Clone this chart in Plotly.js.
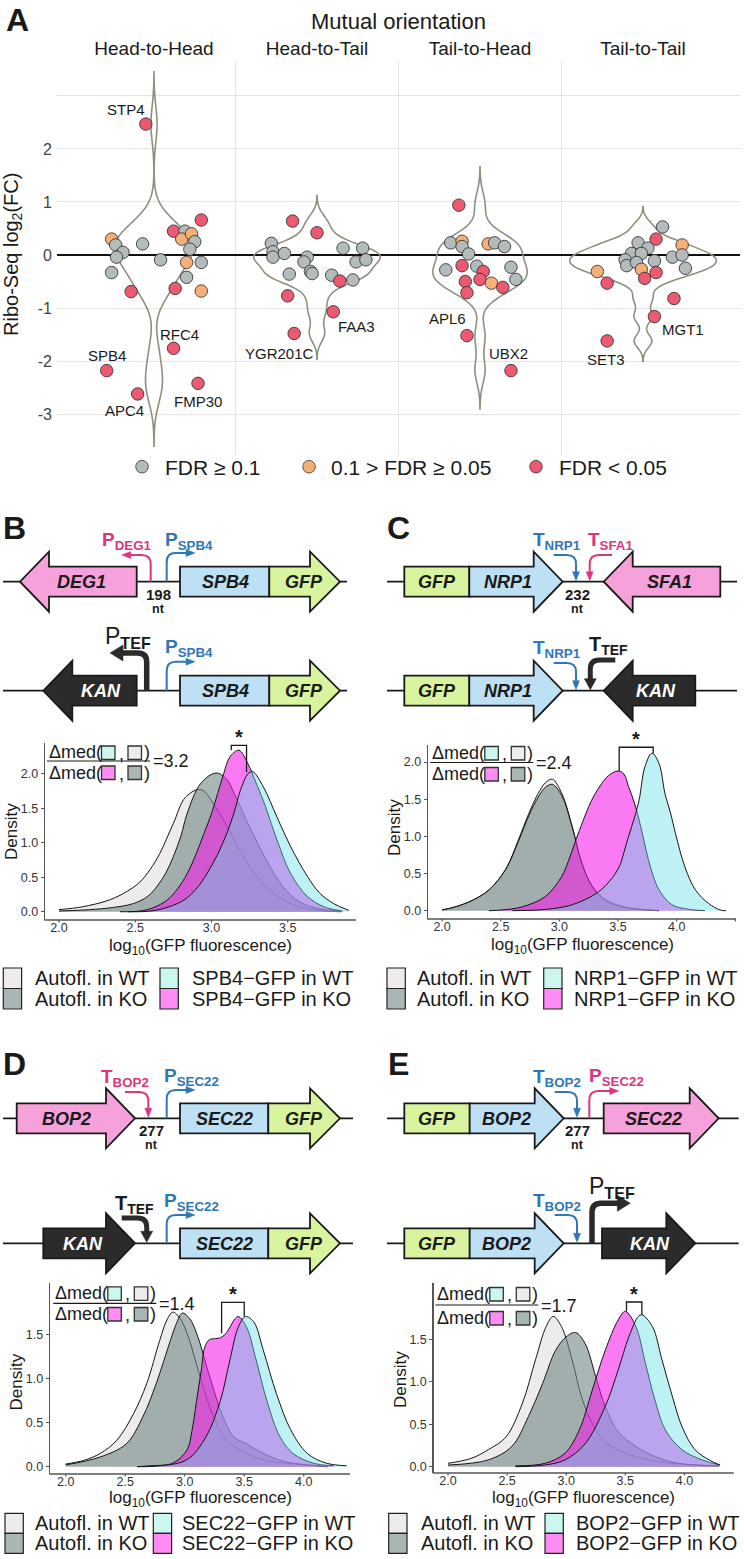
<!DOCTYPE html>
<html><head><meta charset="utf-8">
<script src="https://cdn.plot.ly/plotly-3.0.1.min.js"></script>
<style>html,body{margin:0;padding:0;background:#fff}#chart{width:744px;height:1559px}</style>
</head><body><div id="chart"></div>
<script>
// ---------------- DATA: panel A ----------------
const orientations = ['Head-to-Head','Head-to-Tail','Tail-to-Head','Tail-to-Tail'];
const fdrLabels = ['FDR ≥ 0.1','0.1 > FDR ≥ 0.05','FDR < 0.05'];
// fdr class: 0 = FDR>=0.1, 1 = 0.1>FDR>=0.05, 2 = FDR<0.05 ; labelled genes are the first entries
const hhGenes = ['STP4','RFC4','SPB4','APC4','FMP30'];
const hhFC  = [2.47,-1.76,-2.18,-2.62,-2.42,0.66,0.45,0.45,0.30,0.40,0.25,0.11,-0.14,-0.14,-0.42,-0.63,-0.68,0.30,0.19,0.05,-0.04,-0.33,0.21,-0.69,-0.09];
const hhJit = [-0.05,0.12,-0.29,-0.10,0.27,0.29,0.12,0.19,0.17,0.23,0.25,0.22,0.20,0.29,0.20,0.13,0.29,-0.26,-0.235,-0.19,-0.23,-0.26,-0.07,-0.14,0.04];
const hhFdr = [2,2,2,2,2,2,2,0,1,1,0,0,1,0,0,2,1,1,0,0,0,0,0,2,0];
const htGenes = ['YGR201C','FAA3'];
const htFC  = [-1.48,-1.07,0.64,0.42,0.22,0.06,-0.04,0.03,-0.36,-0.04,-0.13,-0.31,-0.35,-0.38,-0.49,0.13,-0.47,-0.13,0.13,-0.09,-0.77];
const htJit = [-0.14,0.10,-0.15,0.0,-0.28,-0.27,-0.27,-0.2,-0.17,-0.06,-0.08,-0.04,-0.03,0.09,0.14,0.16,0.22,0.24,0.28,0.30,-0.18];
const htFdr = [2,2,2,2,0,0,0,0,0,0,0,0,0,0,2,0,0,0,0,0,2];
const thGenes = ['APL6','UBX2'];
const thFC  = [-1.52,-2.18,0.94,0.23,0.26,0.16,0.02,0.21,0.23,0.16,-0.28,-0.20,-0.21,-0.31,-0.46,-0.50,-0.71,-0.53,-0.61,-0.23,-0.46];
const thJit = [-0.08,0.19,-0.13,-0.18,-0.11,-0.11,-0.07,0.05,0.09,0.15,-0.21,-0.11,-0.02,0.02,0.0,-0.09,-0.08,0.07,0.14,0.19,0.22];
const thFdr = [2,2,2,0,1,0,0,1,0,0,0,2,0,2,2,2,2,1,2,0,0];
const ttGenes = ['MGT1','SET3'];
const ttFC  = [-1.16,-1.62,0.53,0.30,0.23,0.13,0.19,0.03,0.03,-0.09,-0.20,-0.14,-0.11,-0.04,0.0,-0.25,-0.27,-0.44,-0.33,-0.31,-0.53,-0.82];
const ttJit = [0.07,-0.22,0.12,0.08,-0.03,0.03,0.24,-0.07,-0.01,-0.11,-0.10,-0.04,0.07,0.18,0.24,0.26,-0.01,0.01,0.08,-0.28,-0.22,0.19];
const ttFdr = [2,2,0,2,0,0,1,0,0,0,0,0,0,0,0,0,1,2,2,1,2,2];
const yTicksA = [-3,-2,-1,0,1,2,3];
const yTickTextA = ['-3','-2','-1','0','1','2',''];

// ---------------- DATA: density panels (log10 GFP fluorescence vs density) ----------------
const bAutoWT_x=[2.0,2.15,2.33,2.45,2.53,2.6,2.66,2.75,2.83,2.93,3.04,3.15,3.25,3.36,3.47,3.58,3.69,3.85];
const bAutoWT_d=[0.03,0.07,0.17,0.3,0.43,0.62,0.84,1.28,1.66,1.77,1.47,1.04,0.65,0.36,0.17,0.07,0.02,0.0];
const bAutoKO_x=[2.0,2.2,2.35,2.49,2.58,2.64,2.7,2.75,2.8,2.84,2.93,3.03,3.1,3.15,3.25,3.36,3.47,3.58,3.69,3.85];
const bAutoKO_d=[0.01,0.03,0.06,0.12,0.22,0.36,0.56,0.8,1.1,1.42,1.86,2.01,1.92,1.71,1.23,0.75,0.36,0.14,0.05,0.01];
const bGfpKO_x=[2.4,2.53,2.62,2.71,2.78,2.84,2.9,2.95,3.0,3.04,3.08,3.12,3.18,3.24,3.29,3.34,3.43,3.52,3.63,3.74,3.86];
const bGfpKO_d=[0.0,0.01,0.06,0.17,0.34,0.55,0.84,1.13,1.42,1.71,2.0,2.24,2.34,2.14,1.88,1.61,1.04,0.55,0.22,0.07,0.01];
const bGfpWT_x=[2.45,2.6,2.72,2.82,2.9,2.97,3.04,3.1,3.15,3.19,3.24,3.27,3.34,3.43,3.52,3.63,3.71,3.8,3.9];
const bGfpWT_d=[0.0,0.01,0.07,0.17,0.33,0.55,0.83,1.13,1.45,1.76,2.0,2.03,1.81,1.37,0.94,0.51,0.27,0.12,0.02];

const cAutoWT_x=[2.0,2.11,2.26,2.4,2.54,2.65,2.74,2.82,2.88,2.94,3.02,3.11,3.19,3.28,3.39,3.53,3.68,3.85];
const cAutoWT_d=[0.01,0.05,0.14,0.28,0.55,0.95,1.31,1.58,1.72,1.77,1.58,1.13,0.64,0.32,0.14,0.05,0.02,0.0];
const cAutoKO_x=[2.0,2.11,2.26,2.4,2.54,2.65,2.74,2.82,2.88,2.94,3.02,3.11,3.19,3.28,3.39,3.53,3.68,3.85];
const cAutoKO_d=[0.01,0.05,0.14,0.28,0.55,0.93,1.28,1.53,1.66,1.70,1.55,1.12,0.65,0.33,0.15,0.06,0.02,0.0];
const cGfpKO_x=[2.4,2.51,2.68,2.88,3.02,3.08,3.14,3.2,3.25,3.3,3.36,3.42,3.5,3.55,3.59,3.64,3.68,3.72,3.76,3.8,3.85,3.96,4.1,4.24];
const cGfpKO_d=[0.0,0.01,0.05,0.19,0.46,0.68,0.95,1.2,1.4,1.56,1.71,1.82,1.88,1.84,1.67,1.45,1.22,0.95,0.68,0.47,0.28,0.08,0.02,0.0];
const cGfpWT_x=[2.6,2.82,3.0,3.11,3.22,3.34,3.43,3.51,3.55,3.59,3.64,3.68,3.73,3.79,3.85,3.9,3.95,3.99,4.07,4.16,4.27,4.37,4.42];
const cGfpWT_d=[0.0,0.01,0.04,0.08,0.15,0.26,0.4,0.59,0.78,1.0,1.25,1.49,1.94,2.12,1.98,1.58,1.3,1.04,0.59,0.28,0.1,0.01,0.0];

const dAutoWT_x=[2.0,2.15,2.29,2.43,2.57,2.68,2.79,2.85,2.9,2.96,3.02,3.13,3.24,3.35,3.47,3.63,3.83,4.03,4.2];
const dAutoWT_d=[0.03,0.07,0.15,0.3,0.6,0.94,1.43,1.66,1.75,1.68,1.51,1.02,0.57,0.3,0.19,0.09,0.04,0.02,0.0];
const dAutoKO_x=[2.0,2.29,2.51,2.65,2.76,2.88,2.93,2.98,3.04,3.1,3.21,3.32,3.41,3.52,3.66,3.83,4.03,4.2];
const dAutoKO_d=[0.02,0.11,0.26,0.57,0.94,1.43,1.62,1.74,1.68,1.51,1.02,0.57,0.34,0.26,0.15,0.06,0.02,0.0];
const dGfpKO_x=[2.6,2.71,2.9,3.02,3.06,3.1,3.14,3.17,3.21,3.26,3.3,3.34,3.38,3.42,3.45,3.52,3.6,3.69,3.8,3.91,4.08,4.25];
const dGfpKO_d=[0.0,0.01,0.04,0.19,0.4,0.75,1.1,1.36,1.44,1.45,1.46,1.5,1.58,1.67,1.7,1.58,1.21,0.75,0.34,0.15,0.04,0.01];
const dGfpWT_x=[2.6,2.79,3.02,3.18,3.3,3.38,3.45,3.51,3.58,3.66,3.77,3.89,4.03,4.19,4.36];
const dGfpWT_d=[0.0,0.01,0.08,0.34,0.75,1.21,1.58,1.7,1.64,1.32,0.83,0.42,0.15,0.04,0.01];

const eAutoWT_x=[2.0,2.2,2.34,2.49,2.63,2.74,2.83,2.89,2.96,3.05,3.13,3.22,3.33,3.5,3.7,3.9,4.1,4.29];
const eAutoWT_d=[0.04,0.1,0.2,0.35,0.75,1.26,1.65,1.77,1.65,1.26,0.82,0.51,0.29,0.16,0.08,0.04,0.02,0.01];
const eAutoKO_x=[2.0,2.34,2.54,2.68,2.8,2.91,3.0,3.08,3.16,3.25,3.33,3.44,3.59,3.75,3.95,4.29];
const eAutoKO_d=[0.02,0.08,0.24,0.59,0.98,1.37,1.53,1.58,1.45,1.06,0.71,0.41,0.24,0.12,0.04,0.01];
const eGfpKO_x=[2.57,2.82,2.99,3.11,3.22,3.33,3.44,3.5,3.59,3.67,3.75,3.84,3.98,4.15,4.3];
const eGfpKO_d=[0.01,0.04,0.16,0.43,0.9,1.37,1.73,1.83,1.65,1.22,0.79,0.43,0.2,0.08,0.02];
const eGfpWT_x=[2.57,2.82,2.99,3.16,3.33,3.44,3.53,3.61,3.64,3.73,3.81,3.9,3.98,4.09,4.21,4.3];
const eGfpWT_d=[0.0,0.02,0.08,0.27,0.71,1.14,1.53,1.77,1.79,1.65,1.26,0.82,0.47,0.2,0.08,0.02];

const ratioValues = ['3.2','2.4','1.4','1.7'];
const bracketX   = [[3.13,3.23],[3.51,3.80],[3.31,3.50],[3.51,3.64]];
const bracketTop = [2.41,2.20,1.86,1.94];
const bracketEnd = [[2.34,2.02],[1.88,2.12],[1.51,1.70],[1.83,1.79]];
const reporterGenes = ['SPB4','NRP1','SEC22','BOP2'];
const xTicksB=[2,2.5,3,3.5], xTicksC=[2,2.5,3,3.5,4,4.5], xTicksDE=[2,2.5,3,3.5,4];
const yTicksBC=[0,0.5,1,1.5,2], yTicksDE=[0,0.5,1,1.5];

// ---------------- helpers ----------------
const W=744,H=1559;
const FONT='Liberation Sans, Arial, Helvetica, sans-serif';
const X=x=>x/W, Y=y=>1-y/H;
const shapes=[], ann=[], traces=[];
const fdrColors=['#B3BBBB','#F6B075','#EC5A72'];
const esc=s=>s.replace(/&/g,'&amp;').replace(/</g,'&lt;').replace(/>/g,'&gt;');

function quant(s,p){const h=(s.length-1)*p,l=Math.floor(h);return s[l]+(h-l)*(s[Math.min(l+1,s.length-1)]-s[l]);}
function nrd0(v){const n=v.length,m=v.reduce((a,b)=>a+b,0)/n;const sd=Math.sqrt(v.reduce((a,b)=>a+(b-m)*(b-m),0)/(n-1));
  const s=[...v].sort((a,b)=>a-b);const iqr=quant(s,.75)-quant(s,.25);let lo=Math.min(sd,iqr/1.34);if(!lo)lo=sd||1;return 0.9*lo*Math.pow(n,-0.2);}
function kdeMax(v,bw,lo,hi){let m=0;for(let k=0;k<=500;k++){const t=lo+(hi-lo)*k/500;let s=0;for(const x of v){const z=(t-x)/bw;s+=Math.exp(-0.5*z*z);}
  s/=v.length*bw*Math.sqrt(2*Math.PI);if(s>m)m=s;}return m;}

function txt(x,y,text,size,color,extra){ann.push(Object.assign({xref:'paper',yref:'paper',x:X(x),y:Y(y),text:text,showarrow:false,
  font:{family:FONT,size:size,color:color||'#1a1a1a'},xanchor:'center',yanchor:'middle'},extra||{}));}
function lineS(x0,y0,x1,y1,color,w){shapes.push({type:'line',xref:'paper',yref:'paper',x0:X(x0),y0:Y(y0),x1:X(x1),y1:Y(y1),line:{color:color||'#1a1a1a',width:w||1.8}});}
const pt=(x,y)=>X(x).toFixed(6)+','+Y(y).toFixed(6);
function poly(pts,fill,stroke,w){shapes.push({type:'path',xref:'paper',yref:'paper',path:'M'+pts.map(p=>pt(p[0],p[1])).join(' L')+' Z',fillcolor:fill,line:{color:stroke,width:w}});}
function openPath(d,color,w){shapes.push({type:'path',xref:'paper',yref:'paper',path:d,fillcolor:'rgba(0,0,0,0)',line:{color:color,width:w}});}
function rect(x0,y0,x1,y1,fill,stroke,w){shapes.push({type:'rect',xref:'paper',yref:'paper',x0:X(x0),x1:X(x1),y0:Y(y1),y1:Y(y0),fillcolor:fill,line:{color:stroke||'#222',width:w==null?1.2:w}});}

function gene(xa,xb,yb,dir,fill,label,tx,tcol,head){
  head=head||29;let p;
  if(dir>0)p=[[xa,yb-15],[xb-head,yb-15],[xb-head,yb-30],[xb,yb],[xb-head,yb+30],[xb-head,yb+15],[xa,yb+15]];
  else if(dir<0)p=[[xb,yb-15],[xa+head,yb-15],[xa+head,yb-30],[xa,yb],[xa+head,yb+30],[xa+head,yb+15],[xb,yb+15]];
  else p=[[xa,yb-15],[xb,yb-15],[xb,yb+15],[xa,yb+15]];
  poly(p,fill,'#1a1a1a',1.8);
  txt(tx,yb+0.5,'<b><i>'+label+'</i></b>',18,tcol||'#1a1a1a');
}
function promoter(xv,yb,yh,tip,color,w,hl,hw){
  const d=Math.sign(tip-xv),r=9;
  openPath('M'+pt(xv,yb)+' L'+pt(xv,yh+r)+' Q'+pt(xv,yh)+' '+pt(xv+d*r,yh)+' L'+pt(tip-d*hl*0.8,yh),color,w);
  poly([[tip,yh],[tip-d*hl,yh-hw],[tip-d*hl,yh+hw]],color,color,0.5);
}
function terminator(xs,yh,xv,yb,color,w,hl,hw){
  const d=Math.sign(xv-xs),r=9;
  openPath('M'+pt(xs,yh)+' L'+pt(xv-d*r,yh)+' Q'+pt(xv,yh)+' '+pt(xv,yh+r)+' L'+pt(xv,yb-1-hl*0.8),color,w);
  poly([[xv,yb-1],[xv-hw,yb-1-hl],[xv+hw,yb-1-hl]],color,color,0.5);
}
const C_PINK='#F6A1D9',C_BLUE='#BEE0F4',C_GREEN='#D9F49E',C_KAN='#2B2B2B';
const T_PINK='#E0347F',T_BLUE='#2F77B6',BLK='#1a1a1a';

// ---------------- Panel A ----------------
const groups=[[hhFC,hhJit,hhFdr,hhGenes],[htFC,htJit,htFdr,htGenes],[thFC,thJit,thFdr,thGenes],[ttFC,ttJit,ttFdr,ttGenes]];
const bws=groups.map(g=>nrd0(g[0]));
const spans=groups.map((g,i)=>[Math.min(...g[0])-3*bws[i],Math.max(...g[0])+3*bws[i]]);
const maxD=groups.map((g,i)=>kdeMax(g[0],bws[i],spans[i][0],spans[i][1]));
const maxAll=Math.max(...maxD);
groups.forEach((g,i)=>{
  traces.push({type:'violin',x0:i+1,y:g[0],bandwidth:bws[i],spanmode:'manual',span:spans[i],width:0.9*maxD[i]/maxAll,
    scalemode:'width',scalegroup:'g'+i,points:false,box:{visible:false},meanline:{visible:false},side:'both',
    line:{color:'#8f907c',width:1.6},fillcolor:'rgba(0,0,0,0)',hoverinfo:'skip',showlegend:false,xaxis:'x',yaxis:'y'});
});
const labelShift={STP4:[-20,15],RFC4:[6,14],SPB4:[0,15],APC4:[-13,-17],FMP30:[0,-18],YGR201C:[-15,-20],FAA3:[23,-15],
  APL6:[-19,17],UBX2:[-2,17],SET3:[-1,-19],MGT1:[29,-13]};
const px=[],py=[],pc=[];
groups.forEach((g,i)=>{
  g[0].forEach((v,k)=>{px.push(i+1+g[1][k]);py.push(v);pc.push(fdrColors[g[2][k]]);});
  g[3].forEach((name,k)=>{const s=labelShift[name];
    ann.push({xref:'x',yref:'y',x:i+1+g[1][k],y:g[0][k],text:name,showarrow:false,xshift:s[0],yshift:s[1],
      font:{family:FONT,size:15,color:BLK}});});
});
traces.push({type:'scatter',mode:'markers',x:px,y:py,marker:{size:12.5,color:pc,line:{color:'#262626',width:0.8}},
  hoverinfo:'skip',showlegend:false,xaxis:'x',yaxis:'y'});
[1.5,2.5,3.5].forEach(v=>shapes.push({type:'line',xref:'x',yref:'y domain',x0:v,x1:v,y0:0,y1:1,layer:'below',line:{color:'#e4e4e4',width:1}}));

txt(17,20,'<b>A</b>',32);
txt(398,22,'Mutual orientation',22);
txt(13,255,'Ribo-Seq log<sub>2</sub>(FC)',20,BLK,{textangle:-90});
// legend A
const legCx=[142,309,536], legTx=[163,329,557];
fdrLabels.forEach((l,i)=>{
  shapes.push({type:'circle',xref:'paper',yref:'paper',x0:X(legCx[i]-6.3),x1:X(legCx[i]+6.3),y0:Y(466.7+6.3),y1:Y(466.7-6.3),fillcolor:fdrColors[i],line:{color:'#333',width:0.8}});
  txt(legTx[i],467,esc(l),21,BLK,{xanchor:'left'});
});

// ---------------- Diagrams ----------------
const yB1=581.7,yB2=690.7,yD1=1118.3,yD2=1243.3;
txt(14,528,'<b>B</b>',32); txt(398.5,528,'<b>C</b>',32); txt(14,1064,'<b>D</b>',32); txt(398.5,1064,'<b>E</b>',32);
function spacer(x,yb,num){txt(x,yb+12.5,'<b>'+num+'</b>',15); txt(x,yb+27,'<b>nt</b>',12.5);}
// B1
lineS(3,yB1,347,yB1);
gene(20,136.7,yB1,-1,C_PINK,'DEG1',81.7);
gene(180,269.3,yB1,0,C_BLUE,'SPB4',225.7);
gene(269.3,340,yB1,1,C_GREEN,'GFP',304,null,30);
promoter(150.7,yB1,555,121.7,T_PINK,2,9,3.5);
promoter(166.7,yB1,553,195,T_BLUE,2,9,3.5);
txt(127.5,541,'<b>P<sub>DEG1</sub></b>',19,T_PINK);
txt(189,541,'<b>P<sub>SPB4</sub></b>',19,T_BLUE);
spacer(158.3,yB1,'198');
// B2
lineS(3,yB2,347,yB2);
gene(43.3,136.7,yB2,-1,C_KAN,'KAN',101.5,'#ffffff');
gene(180,269.3,yB2,0,C_BLUE,'SPB4',225.7);
gene(269.3,340,yB2,1,C_GREEN,'GFP',304,null,30);
promoter(146.7,yB2,653,110,C_KAN,5.5,13,8);
promoter(166.7,yB2,661.7,195,T_BLUE,2,9,3.5);
txt(128,637,'P<sub><b>TEF</b></sub>',23);
txt(189,648,'<b>P<sub>SPB4</sub></b>',19,T_BLUE);
// C1
lineS(387,yB1,737,yB1);
gene(404.3,469.3,yB1,0,C_GREEN,'GFP',437);
gene(469.3,562.7,yB1,1,C_BLUE,'NRP1',507.8);
gene(603.7,720.3,yB1,-1,C_PINK,'SFA1',669.5);
terminator(553.7,555,576,yB1,T_BLUE,2,9,3.5);
terminator(612,555,589.7,yB1,T_PINK,2,9,3.5);
txt(557,541,'<b>T<sub>NRP1</sub></b>',19,T_BLUE);
txt(610.5,541,'<b>T<sub>SFA1</sub></b>',19,T_PINK);
spacer(577,yB1,'232');
// C2
lineS(387,yB2,737,yB2);
gene(404.3,469.3,yB2,0,C_GREEN,'GFP',437);
gene(469.3,562.7,yB2,1,C_BLUE,'NRP1',507.8);
gene(603.7,695.3,yB2,-1,C_KAN,'KAN',656,'#ffffff');
terminator(553.7,663,576,yB2,T_BLUE,2,9,3.5);
terminator(615.3,660,590.3,yB2,C_KAN,5,11,6);
txt(557,649,'<b>T<sub>NRP1</sub></b>',19,T_BLUE);
txt(608,645,'<b>T<sub>TEF</sub></b>',20);
// D1
lineS(3,yD1,353,yD1);
gene(16.7,135,yD1,1,C_PINK,'BOP2',66.7);
gene(180,268.3,yD1,0,C_BLUE,'SEC22',224);
gene(268.3,340,yD1,1,C_GREEN,'GFP',304,null,30);
terminator(125,1092,148.3,yD1,T_PINK,2,9,3.5);
promoter(166.7,yD1,1090,195,T_BLUE,2,9,3.5);
txt(125,1078,'<b>T<sub>BOP2</sub></b>',19,T_PINK);
txt(191.5,1077,'<b>P<sub>SEC22</sub></b>',19,T_BLUE);
spacer(151.7,yD1,'277');
// D2
lineS(3,yD2,353,yD2);
gene(43.3,135,yD2,1,C_KAN,'KAN',83,'#ffffff');
gene(180,268.3,yD2,0,C_BLUE,'SEC22',224);
gene(268.3,340,yD2,1,C_GREEN,'GFP',304,null,30);
terminator(121.7,1218,146.7,yD2,C_KAN,5,11,6);
promoter(166.7,yD2,1215,195,T_BLUE,2,9,3.5);
txt(134,1204,'<b>T<sub>TEF</sub></b>',20);
txt(191.5,1202,'<b>P<sub>SEC22</sub></b>',19,T_BLUE);
// E1
lineS(387,yD1,738.7,yD1);
gene(404.3,469.7,yD1,0,C_GREEN,'GFP',437);
gene(469.7,563.7,yD1,1,C_BLUE,'BOP2',507);
gene(603.7,718.7,yD1,1,C_PINK,'SEC22',653);
terminator(554.7,1092,577,yD1,T_BLUE,2,9,3.5);
promoter(589.3,yD1,1091,618.7,T_PINK,2,9,3.5);
txt(557,1078,'<b>T<sub>BOP2</sub></b>',19,T_BLUE);
txt(616.5,1077,'<b>P<sub>SEC22</sub></b>',19,T_PINK);
spacer(577,yD1,'277');
// E2
lineS(387,yD2,738.7,yD2);
gene(404.3,469.7,yD2,0,C_GREEN,'GFP',437);
gene(469.7,563.7,yD2,1,C_BLUE,'BOP2',507);
gene(602,695.3,yD2,1,C_KAN,'KAN',649.5,'#ffffff');
terminator(554.7,1215,577,yD2,T_BLUE,2,9,3.5);
promoter(592,yD2,1203.3,630.3,C_KAN,5.5,13,8);
txt(557,1202,'<b>T<sub>BOP2</sub></b>',19,T_BLUE);
txt(612,1187,'P<sub><b>TEF</b></sub>',23);

// ---------------- Density panels ----------------
const FILL=['rgba(226,222,221,0.6)','rgba(112,134,131,0.6)','rgba(245,25,235,0.58)','rgba(100,222,228,0.42)'];
const KEY=['#EDEBEB','#A9B6B5','#CBF7EE','#FF8CF4'];
const dens=[
  {n:2,c:[[bAutoWT_x,bAutoWT_d],[bAutoKO_x,bAutoKO_d],[bGfpKO_x,bGfpKO_d],[bGfpWT_x,bGfpWT_d]],box:[45,356,920,743],xr:[1.908,3.948],yr:[-0.12,2.445],xt:xTicksB,yt:yTicksBC,
   frac:[47,752.5,761,772.5],leg:[3.3,33.3,160,190,968,20.5],xt_y:947,yt_xy:[12,832]},
  {n:3,c:[[cAutoWT_x,cAutoWT_d],[cAutoKO_x,cAutoKO_d],[cGfpKO_x,cGfpKO_d],[cGfpWT_x,cGfpWT_d]],box:[428,736,919,745],xr:[1.88,4.506],yr:[-0.112,2.23],xt:xTicksC,yt:yTicksBC,
   frac:[430.3,753,762.5,774],leg:[387,415.3,543.7,572,968,20.5],xt_y:946,yt_xy:[394,828]},
  {n:4,c:[[dAutoWT_x,dAutoWT_d],[dAutoKO_x,dAutoKO_d],[dGfpKO_x,dGfpKO_d],[dGfpWT_x,dGfpWT_d]],box:[50,350,1474,1283],xr:[1.868,4.389],yr:[-0.083,2.08],xt:xTicksDE,yt:yTicksDE,
   frac:[53.3,1293.3,1303.3,1314],leg:[5,33.3,153.3,180,1513.3,20],xt_y:1499,yt_xy:[15.5,1382]},
  {n:5,c:[[eAutoWT_x,eAutoWT_d],[eAutoKO_x,eAutoKO_d],[eGfpKO_x,eGfpKO_d],[eGfpWT_x,eGfpWT_d]],box:[433.7,733.7,1473,1283],xr:[1.879,4.417],yr:[-0.074,2.164],xt:xTicksDE,yt:yTicksDE,
   frac:[435.3,1294,1305,1318],leg:[388.7,418.7,545,574,1513.3,20],xt_y:1499,yt_xy:[400,1380]}
];
const layout={width:W,height:H,margin:{l:0,r:0,t:0,b:0},paper_bgcolor:'#fff',plot_bgcolor:'rgba(0,0,0,0)',
  font:{family:FONT,color:BLK},showlegend:false,violinmode:'overlay',
  xaxis:{domain:[X(57),X(740)],range:[0.405,4.595],side:'top',anchor:'y',tickmode:'array',tickvals:[1,2,3,4],ticktext:orientations,
    showgrid:false,zeroline:false,showline:false,ticks:'',ticklabelstandoff:2,tickfont:{family:FONT,size:19,color:BLK},fixedrange:true},
  yaxis:{domain:[Y(456),Y(62)],range:[-3.79,3.64],anchor:'x',tickmode:'array',tickvals:yTicksA,ticktext:yTickTextA,showgrid:true,gridcolor:'#e4e4e4',gridwidth:1,
    zeroline:true,zerolinecolor:'#111',zerolinewidth:1.3,showline:false,ticks:'',ticklabelstandoff:4,tickfont:{family:FONT,size:16,color:'#444'},fixedrange:true}
};
dens.forEach((p,pi)=>{
  const xa='x'+p.n, ya='y'+p.n;
  p.c.forEach((c,ci)=>traces.push({type:'scatter',mode:'lines',x:c[0],y:c[1],fill:'tozeroy',fillcolor:FILL[ci],
    line:{color:'#151515',width:1,shape:'spline',smoothing:1},xaxis:xa,yaxis:ya,hoverinfo:'skip',showlegend:false}));
  const axc='#555';
  // x axis placed slightly above its drawn line so that the tick labels sit as close to the line as in the reference
  layout['xaxis'+p.n]={domain:[X(p.box[0]),X(p.box[1])],range:p.xr,anchor:'free',position:Y(p.box[2]-2),tickmode:'array',tickvals:p.xt,tickformat:'.1f',
    showgrid:false,zeroline:false,showline:false,ticks:'',tickfont:{family:FONT,size:12.5,color:'#333'},fixedrange:true};
  layout['yaxis'+p.n]={domain:[Y(p.box[2]),Y(p.box[3])],range:p.yr,anchor:xa,tickmode:'array',tickvals:p.yt,tickformat:'.1f',showgrid:false,zeroline:false,
    showline:true,linecolor:axc,linewidth:1.4,ticks:'outside',ticklen:3,tickcolor:axc,tickfont:{family:FONT,size:12.5,color:'#333'},fixedrange:true};
  lineS(p.box[0]-0.7,p.box[2],p.box[1],p.box[2],axc,1.4);
  p.xt.forEach(v=>shapes.push({type:'line',xref:xa,yref:'paper',x0:v,x1:v,y0:Y(p.box[2]),y1:Y(p.box[2]+2.5),line:{color:axc,width:1.2}}));
  // axis titles
  txt((p.box[0]+p.box[1])/2,p.xt_y,'log<sub>10</sub>(GFP fluorescence)',17);
  txt(p.yt_xy[0],p.yt_xy[1],'Density',17,BLK,{textangle:-90});
  // significance bracket
  const bx=bracketX[pi], bt=bracketTop[pi], be=bracketEnd[pi];
  shapes.push({type:'path',xref:xa,yref:ya,path:`M${bx[0]},${be[0]} L${bx[0]},${bt} L${bx[1]},${bt} L${bx[1]},${be[1]}`,line:{color:BLK,width:1.3},fillcolor:'rgba(0,0,0,0)'});
  ann.push({xref:xa,yref:ya,x:(bx[0]+bx[1])/2,y:bt,yshift:8,text:'<b>*</b>',showarrow:false,font:{family:FONT,size:20,color:BLK}});
  // ratio fraction
  const [x0,yn,yl,yd]=p.frac;
  [[yn,KEY[2],KEY[0]],[yd,KEY[3],KEY[1]]].forEach(r=>{
    txt(x0,r[0],'Δmed(',18,BLK,{xanchor:'left'});
    rect(x0+54.5,r[0]-6.5,x0+68,r[0]+7,r[1],'#333',1.3);
    txt(x0+74.5,r[0]+1,',',18);
    rect(x0+81,r[0]-6.5,x0+94.5,r[0]+7,r[2],'#333',1.3);
    txt(x0+95,r[0],')',18,BLK,{xanchor:'left'});
  });
  lineS(x0,yl,x0+103,yl,BLK,1.2);
  txt(x0+103.5,yl+0.5,'='+ratioValues[pi],18,BLK,{xanchor:'left'});
  // legend
  const [b1,t1,b2,t2,yt,rh]=p.leg;
  const labels=['Autofl. in WT','Autofl. in KO',reporterGenes[pi]+'−GFP in WT',reporterGenes[pi]+'−GFP in KO'];
  rect(b1,yt,b1+18.3,yt+rh,KEY[0]); rect(b1,yt+rh,b1+18.3,yt+2*rh,KEY[1]);
  rect(b2,yt,b2+18.3,yt+rh,KEY[2]); rect(b2,yt+rh,b2+18.3,yt+2*rh,KEY[3]);
  txt(t1,yt+rh/2,labels[0],20,BLK,{xanchor:'left'}); txt(t1,yt+1.5*rh,labels[1],20,BLK,{xanchor:'left'});
  txt(t2,yt+rh/2,labels[2],20,BLK,{xanchor:'left'}); txt(t2,yt+1.5*rh,labels[3],20,BLK,{xanchor:'left'});
});
layout.shapes=shapes; layout.annotations=ann;
Plotly.newPlot('chart',traces,layout,{displayModeBar:false,staticPlot:true});
</script></body></html>
